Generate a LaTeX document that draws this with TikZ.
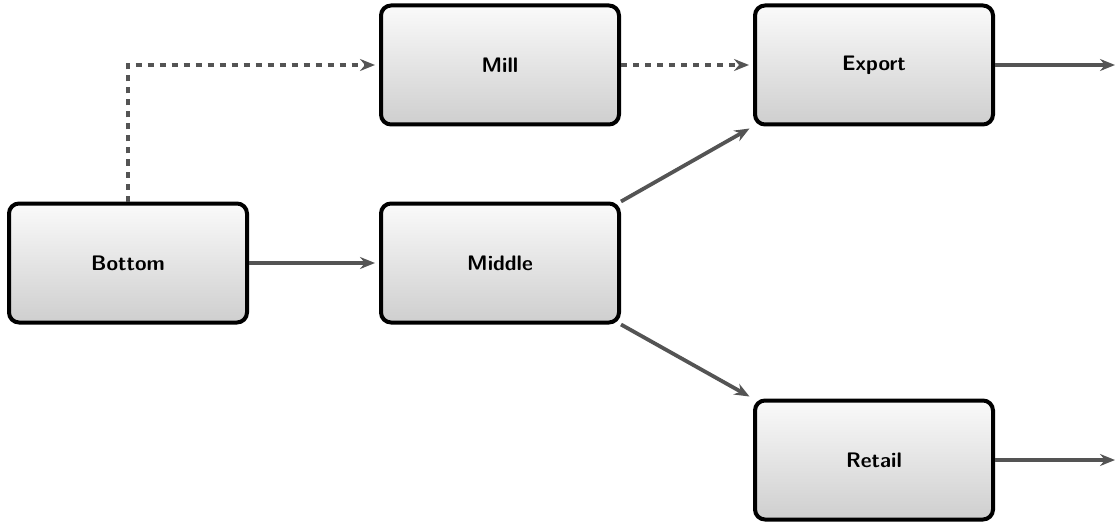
\documentclass[tikz,border=0pt]{standalone}
\usetikzlibrary{arrows.meta}
\begin{document}
\begin{tikzpicture}[x=0.5pt,y=-0.5pt,
  stagebox/.style={draw=black,line width=2pt,rounded corners=5pt,
    minimum width=119pt,minimum height=59.5pt,inner sep=0pt,
    top color=gray!4,bottom color=gray!38,
    font=\sffamily\bfseries\fontsize{10.5}{12}\selectfont},
  flow/.style={draw=black!67,line width=1.9pt,shorten >=2pt,
    -{Stealth[length=7.5pt,width=6pt,inset=2.5pt]}},
  dflow/.style={flow,dash pattern=on 3pt off 3pt}]
\useasboundingbox (0,0) rectangle (1119,524);
\node[stagebox] (bottom) at (128,263) {Bottom};
\node[stagebox] (mill) at (500,65) {Mill};
\node[stagebox] (middle) at (500,263) {Middle};
\node[stagebox] (export) at (874,65) {Export};
\node[stagebox] (retail) at (874,460) {Retail};
\coordinate (eout) at (1119,65);
\coordinate (rout) at (1119,460);
\draw[flow] (bottom.east) -- (middle.west);
\draw[dflow] (bottom.north) |- (mill.west);
\draw[dflow] (mill.east) -- (export.west);
\draw[flow] (middle.north east) -- (export.south west);
\draw[flow] (middle.south east) -- (retail.north west);
\draw[flow] (export.east) -- (eout);
\draw[flow] (retail.east) -- (rout);
\end{tikzpicture}
\end{document}
